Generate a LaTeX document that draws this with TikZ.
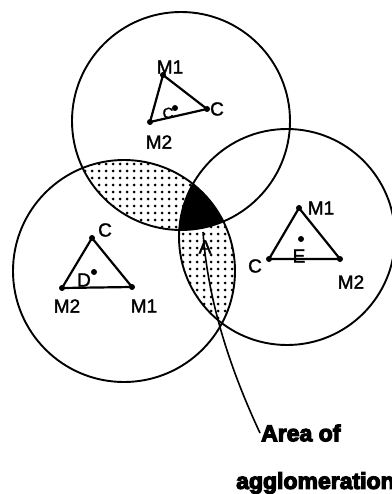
\documentclass[tikz,border=0pt]{standalone}
\usepackage{fontspec}
\setmainfont{Liberation Sans}
\newfontfamily\labelfont{Liberation Sans}[FakeBold=1.5]
\newfontfamily\heavyfont{Liberation Sans Bold}[FakeBold=5]

\begin{document}
\begin{tikzpicture}[x=1pt,y=-1pt,
  ring/.style={line width=1.9pt},
  tri/.style={line width=2.2pt,line join=round},
  lbl/.style={font=\labelfont\fontsize{19}{22}\selectfont,inner sep=0pt},
  vtx/.style={circle,fill,inner sep=0pt,minimum size=6pt},
  note/.style={font=\heavyfont\fontsize{23}{26}\selectfont,anchor=west,inner sep=1pt}]
  \useasboundingbox (0,0) rectangle (391,494);
  % Dotted overlap of left and top circles
  \begin{scope}
    \clip (124,271) circle (111pt);
    \clip (181,121) circle (109pt);
    \foreach \gx in {50,57,...,250}
      \foreach \gy in {150,157,...,340}
        \fill (\gx,\gy) circle (1.5pt);
  \end{scope}
  % Dotted overlap of left and right circles
  \begin{scope}
    \clip (124,271) circle (111pt);
    \clip (287,237) circle (108pt);
    \foreach \gx in {50,57,...,250}
      \foreach \gy in {150,157,...,340}
        \fill (\gx,\gy) circle (1.5pt);
  \end{scope}
  % Black area common to all three circles
  \begin{scope}
    \clip (124,271) circle (111pt);
    \clip (181,121) circle (109pt);
    \fill (287,237) circle (108pt);
  \end{scope}
  % Circles
  \draw[ring] (181,121) circle (109pt);
  \draw[ring] (124,271) circle (111pt);
  \draw[ring] (287,237) circle (108pt);
  % Top triangle
  \node[vtx] (t1) at (163,75) {};
  \node[vtx] (tc) at (207,109) {};
  \node[vtx] (t2) at (150,122) {};
  \node[vtx] (tg) at (175,108) {};
  \draw[tri] (t1.center) -- (tc.center) -- (t2.center) -- cycle;
  \node[lbl] (t1l) at (170,67) {M1};
  \node[lbl] (tcl) at (217,109) {C};
  \node[lbl] (t2l) at (159,142) {M2};
  \node[lbl,font=\labelfont\fontsize{15}{17}\selectfont] (tgl) at (168,113) {C};
  % Left triangle
  \node[vtx] (l3) at (92,238) {};
  \node[vtx] (l2) at (62,288) {};
  \node[vtx] (l1) at (132,287) {};
  \node[vtx] (lg) at (94,272) {};
  \draw[tri] (l3.center) -- (l1.center) -- (l2.center) -- cycle;
  \node[lbl] (l3l) at (105,230) {C};
  \node[lbl] (lgl) at (84,280) {D};
  \node[lbl] (l2l) at (67,306) {M2};
  \node[lbl] (l1l) at (144,306) {M1};
  % Right triangle
  \node[vtx] (r1) at (299,208) {};
  \node[vtx] (r3) at (269,259) {};
  \node[vtx] (r2) at (340,259) {};
  \node[vtx] (rg) at (301,239) {};
  \draw[tri] (r1.center) -- (r2.center) -- (r3.center) -- cycle;
  \node[lbl] (r1l) at (321,208) {M1};
  \node[lbl] (r3l) at (255,266) {C};
  \node[lbl] (rgl) at (299,256) {E};
  \node[lbl] (r2l) at (351,282) {M2};
  % Area label and pointer
  \node[lbl] (al) at (205,247) {A};
  \coordinate (pstart) at (203,232);
  \node[note] (area) at (260,433) {Area of};
  \node[note] (aggl) at (235,483) {agglomeration};
  \draw[line width=1.6pt] (pstart) .. controls (207,290) and (224,356) .. (area.west);
\end{tikzpicture}
\end{document}
